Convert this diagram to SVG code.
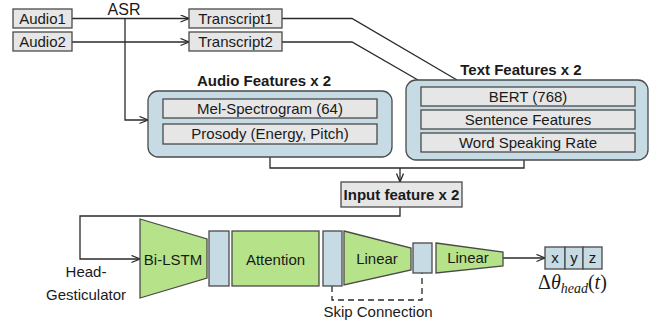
<svg xmlns="http://www.w3.org/2000/svg" width="651" height="322" viewBox="0 0 651 322">
  <style>
    text { font-family: "Liberation Sans", Arial, sans-serif; font-size: 15px; fill: #1a1a1a; }
    .title { font-weight: bold; }
    .mid { text-anchor: middle; }
    .gbox { fill: #e6e6e6; stroke: #4a4a4a; stroke-width: 1.3; }
    .panel { fill: #c7dbe5; stroke: #4a4a4a; stroke-width: 1.3; }
    .blue { fill: #c7dbe5; stroke: #4a4a4a; stroke-width: 1.3; }
    .green { fill: #b6e38a; stroke: #4a4a4a; stroke-width: 1.3; }
    .wire { fill: none; stroke: #2a2a2a; stroke-width: 1.3; }
    .arrow { marker-end: url(#chev); }
    .dash { fill: none; stroke: #2a2a2a; stroke-width: 1.3; stroke-dasharray: 6 4; }
    .math { font-family: "Liberation Serif", "Times New Roman", serif; font-size: 20px; }
  </style>
  <defs>
    <marker id="chev" markerUnits="userSpaceOnUse" markerWidth="12" markerHeight="10" refX="9" refY="4" orient="auto">
      <path d="M0.5,0.5 L9,4 L0.5,7.5" fill="none" stroke="#2a2a2a" stroke-width="1.3"/>
    </marker>
  </defs>

  <!-- connectors -->
  <g id="connectors">
    <path class="wire arrow" d="M72,18.5 H189"/>
    <path class="wire arrow" d="M72,42 H189"/>
    <path class="wire arrow" d="M125,18.5 V120 H148"/>
    <path class="wire" d="M282,18.5 H352 L457,80"/>
    <path class="wire" d="M282,42 H352 L418,80"/>
    <path class="wire" d="M270,157 V168 H524 V160"/>
    <path class="wire arrow" d="M400,168 V182"/>
    <path class="wire arrow" d="M400,207 V216 H80 V259 H140"/>
    <path class="wire arrow" d="M503,258 H545"/>
    <path class="dash" d="M332,286 V300 H422 V273"/>
  </g>

  <text x="124" y="15" class="mid" style="font-size:16px">ASR</text>

  <!-- inputs -->
  <g id="audio1">
    <rect class="gbox" x="13" y="9" width="59" height="19"/>
    <text x="42.5" y="24" class="mid">Audio1</text>
  </g>
  <g id="audio2">
    <rect class="gbox" x="13" y="32" width="59" height="19"/>
    <text x="42.5" y="47" class="mid">Audio2</text>
  </g>
  <g id="transcript1">
    <rect class="gbox" x="189" y="9" width="93" height="19"/>
    <text x="235.5" y="24" class="mid">Transcript1</text>
  </g>
  <g id="transcript2">
    <rect class="gbox" x="189" y="32" width="93" height="19"/>
    <text x="235.5" y="47" class="mid">Transcript2</text>
  </g>

  <!-- audio feature panel -->
  <g id="audio-features">
    <text x="264" y="86" class="title mid">Audio Features x 2</text>
    <rect class="panel" x="148" y="91" width="244" height="66" rx="10"/>
    <rect class="gbox" x="163" y="99" width="214" height="19"/>
    <text x="270" y="114" class="mid">Mel-Spectrogram (64)</text>
    <rect class="gbox" x="163" y="124" width="214" height="20"/>
    <text x="270" y="139" class="mid">Prosody (Energy, Pitch)</text>
  </g>

  <!-- text feature panel -->
  <g id="text-features">
    <text x="521" y="75" class="title mid">Text Features x 2</text>
    <rect class="panel" x="406" y="80" width="242" height="80" rx="10"/>
    <rect class="gbox" x="421" y="87" width="214" height="19"/>
    <text x="528" y="102" class="mid">BERT (768)</text>
    <rect class="gbox" x="421" y="110" width="214" height="19"/>
    <text x="528" y="125" class="mid">Sentence Features</text>
    <rect class="gbox" x="421" y="133" width="214" height="19"/>
    <text x="528" y="148" class="mid">Word Speaking Rate</text>
  </g>

  <g id="input-feature">
    <rect class="gbox" x="341" y="182" width="121" height="25"/>
    <text x="401.5" y="200" class="title mid">Input feature x 2</text>
  </g>

  <!-- network -->
  <g id="bilstm">
    <path class="green" d="M140,219 L207,239 V278 L140,298 Z"/>
    <text x="173" y="265" class="mid">Bi-LSTM</text>
  </g>
  <g id="block1">
    <rect class="blue" x="209" y="231" width="20" height="55"/>
  </g>
  <g id="attention">
    <rect class="green" x="232" y="231" width="87" height="55"/>
    <text x="275.5" y="265" class="mid">Attention</text>
  </g>
  <g id="block2">
    <rect class="blue" x="323" y="231" width="19" height="55"/>
  </g>
  <g id="linear1">
    <path class="green" d="M344,231 L411,248 V270 L344,285 Z"/>
    <text x="377" y="264" class="mid">Linear</text>
  </g>
  <g id="block3">
    <rect class="blue" x="413" y="243" width="19" height="30"/>
  </g>
  <g id="linear2">
    <path class="green" d="M436,243 L503,252 V266 L436,273 Z"/>
    <text x="468" y="263" class="mid">Linear</text>
  </g>
  <g id="output">
    <rect class="blue" x="545" y="247" width="20" height="22"/>
    <rect class="blue" x="565" y="247" width="18" height="22"/>
    <rect class="blue" x="583" y="247" width="19" height="22"/>
    <text x="555" y="263" class="mid">x</text>
    <text x="574" y="263" class="mid">y</text>
    <text x="592.5" y="263" class="mid">z</text>
    <text x="538" y="289" class="math">Δ<tspan font-style="italic">θ</tspan><tspan font-style="italic" font-size="14" dy="4">head</tspan><tspan dy="-4">(</tspan><tspan font-style="italic">t</tspan>)</text>
  </g>

  <text x="86" y="277" class="mid">Head-</text>
  <text x="86" y="300" class="mid">Gesticulator</text>
  <text x="378" y="317" class="mid">Skip Connection</text>
</svg>
